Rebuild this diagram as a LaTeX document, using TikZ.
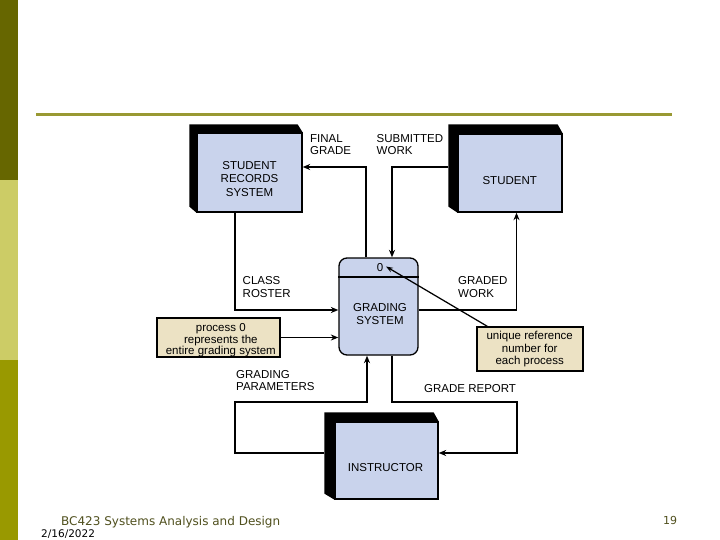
\documentclass[tikz,border=0pt]{standalone}
\usepackage{fontspec}
\setmainfont{Liberation Sans}
\newfontfamily\footfont{DejaVu Sans}
\usetikzlibrary{arrows.meta,calc}
\definecolor{boxblue}{RGB}{201,211,236}
\definecolor{notetan}{RGB}{236,226,196}
\definecolor{bardark}{RGB}{102,102,0}
\definecolor{barlight}{RGB}{204,204,102}
\definecolor{barmid}{RGB}{153,153,0}
\definecolor{rulecol}{RGB}{153,153,51}
\definecolor{foottext}{RGB}{80,80,30}
\newcommand\dfdshadow[3]{%
  \fill[black] ($(#1.north west)+(-#2,-#3)$) -- ($(#1.north east)+(-5,-#3)$) --
  (#1.north east) -- (#1.south west) -- ($(#1.south west)+(-#2,-6)$) -- cycle;}
\begin{document}
\begin{tikzpicture}[x=1pt,y=-1pt,
  extbox/.style={draw=black,line width=1.3pt,fill=boxblue,inner sep=0pt},
  procbox/.style={draw=black,line width=1.3pt,fill=boxblue,inner sep=0pt,rounded corners=8pt},
  notebox/.style={draw=black,line width=1.3pt,fill=notetan,inner sep=0pt},
  boxtext/.style={inner sep=0pt,align=center,font=\fontsize{11.5}{13.2}\selectfont},
  flowlabel/.style={inner sep=0pt,align=left,anchor=north west,font=\fontsize{11.5}{12.4}\selectfont},
  notetext/.style={inner sep=0pt,align=center,font=\fontsize{11.5}{11.2}\selectfont},
  conn/.style={line width=1.25pt},
  arr/.style={conn,-{Stealth[length=7.5pt,width=6pt]}}]
\useasboundingbox (0,0) rectangle (720,540);
\fill[white] (0,0) rectangle (720,540);
% side bar and rule
\fill[bardark] (0,0) rectangle (18,180);
\fill[barlight] (0,180) rectangle (18,360);
\fill[barmid] (0,360) rectangle (18,540);
\fill[rulecol] (36,112.7) rectangle (672,115.7);

% boxes (named placeholders for anchors, shadows, then faces)
\node[extbox,minimum width=105pt,minimum height=79pt] (srs) at (249.5,172.5) {};
\node[extbox,minimum width=104pt,minimum height=78pt] (student) at (510,173) {};
\node[extbox,minimum width=103pt,minimum height=77pt] (instr) at (386.5,460.5) {};
\dfdshadow{srs}{7}{8}
\dfdshadow{student}{9}{9}
\dfdshadow{instr}{10}{9}
\node[extbox,minimum width=105pt,minimum height=79pt] (srsface) at (249.5,172.5) {};
\node[extbox,minimum width=104pt,minimum height=78pt] (studentface) at (510,173) {};
\node[extbox,minimum width=103pt,minimum height=77pt] (instrface) at (386.5,460.5) {};

\node[procbox,minimum width=79pt,minimum height=97pt] (gs) at (378.5,306.5) {};
\draw[line width=1.2pt] (gs.west |- 0,277) -- (gs.east |- 0,277);
\node[notebox,minimum width=123pt,minimum height=39pt] (note0) at (218.5,337.5) {};
\node[notebox,minimum width=106pt,minimum height=44pt] (noteu) at (530,349) {};

% texts in boxes
\node[boxtext] (srst) at (249.5,179) {STUDENT\\RECORDS\\SYSTEM};
\node[boxtext] (studentt) at (509.7,180.3) {STUDENT};
\node[boxtext] (instrt) at (385.5,467.5) {INSTRUCTOR};
\node[boxtext,font=\fontsize{11.5}{12.7}\selectfont] (gst) at (380,313.7) {GRADING\\SYSTEM};
\node[boxtext] (zero) at (380,267.3) {0};
\node[notetext] (note0t) at (220.8,340.2) {process 0\\represents the\\entire grading system};
\node[notetext,font=\fontsize{11.5}{12.5}\selectfont] (noteut) at (529.7,349.5) {unique reference\\number for\\each process};

% flow labels
\node[flowlabel] (lfg) at (310,134) {FINAL\\GRADE};
\node[flowlabel] (lsw) at (376.5,134) {SUBMITTED\\WORK};
\node[flowlabel] (lcr) at (242.5,276.7) {CLASS\\ROSTER};
\node[flowlabel] (lgw) at (458,276.7) {GRADED\\WORK};
\node[flowlabel] (lgp) at (236,370) {GRADING\\PARAMETERS};
\node[flowlabel] (lgr) at (424,384) {GRADE REPORT};

% connectors
\coordinate (gpc) at (235,402);
\coordinate (grc) at (517,402);
\coordinate (zerotip) at (386,266.5);
\draw[arr] ([xshift=-12.5pt]gs.north) |- ([yshift=5.5pt]srs.east);
\draw[arr] ([xshift=-9pt,yshift=6pt]student.west) -| ([xshift=13.5pt]gs.north);
\draw[arr] ([xshift=-14.5pt]srs.south) |- ([yshift=-3.5pt]gs.west);
\draw[arr] (note0.east) -- (note0.east -| gs.west);
\draw[arr] ([yshift=-3.5pt]gs.east) -| ([xshift=6.5pt]student.south);
\draw[conn,-{Stealth[length=7pt,width=5pt]}] ([xshift=11pt]noteu.north west) -- (zerotip);
\draw[arr] ([xshift=-10pt,yshift=7.5pt]instr.west) -| (gpc) -| ([xshift=-11.5pt]gs.south);
\draw[arr] ([xshift=13.5pt]gs.south) |- (grc) |- ([yshift=7.5pt]instr.east);

% footer
\node[inner sep=0pt,anchor=base west,text=foottext,font=\footfont\fontsize{12}{14}\selectfont] (foot) at (61,525) {BC423 Systems Analysis and Design};
\node[inner sep=0pt,anchor=base west,text=black,font=\footfont\fontsize{10.5}{12}\selectfont] (date) at (41,537) {2/16/2022};
\node[inner sep=0pt,anchor=base west,text=foottext,font=\footfont\fontsize{11}{12}\selectfont] (page) at (663,524.3) {19};
\end{tikzpicture}
\end{document}
